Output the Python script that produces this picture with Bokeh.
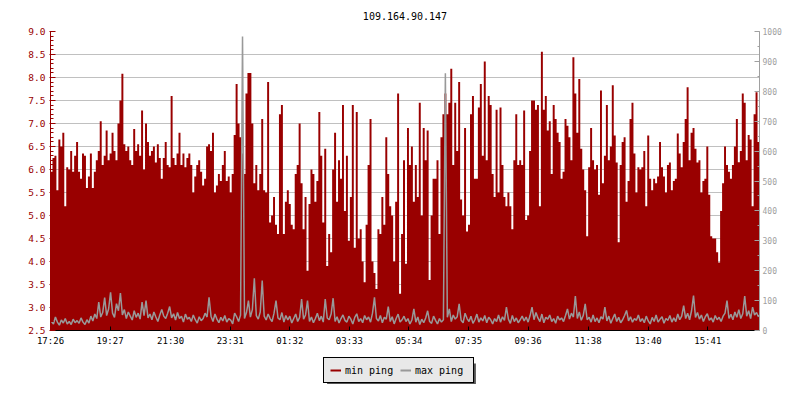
from bokeh.plotting import figure
from bokeh.layouts import column
from bokeh.models import (Range1d, LinearAxis, SingleIntervalTicker, FixedTicker,
                          PrintfTickFormatter, Legend, LegendItem, ColumnDataSource)
from bokeh.embed import file_html
from bokeh.resources import INLINE

# ---------------- data ----------------
title_text = "109.164.90.147"
start_time = "17:26"
sample_minutes = 4
tick_labels = ["17:26", "19:27", "21:30", "23:31", "01:32", "03:33",
               "05:34", "07:35", "09:36", "11:38", "13:40", "15:41"]
series_names = ["min ping", "max ping"]

# min ping (left axis, ms)
min_ping = [
    5.95, 6.25, 6.3, 5.55, 6.65, 6.5, 6.8, 5.2, 6.05, 6.0, 6.4, 5.95, 6.3, 6.6, 5.95, 5.8, 6.35, 6.3, 5.6, 5.85,
    6.35, 5.6, 5.95, 6.2, 6.4, 7.05, 6.1, 6.3, 6.85, 6.2, 6.35, 6.8, 6.4, 6.2, 7.0, 7.5, 8.08, 6.55, 6.4, 6.5,
    6.2, 6.1, 6.88, 6.4, 6.55, 6.3, 7.28, 6.0, 7.0, 6.6, 6.3, 6.4, 6.5, 6.15, 6.55, 6.25, 5.8, 6.25, 6.6, 6.1,
    6.05, 7.6, 6.25, 6.1, 6.35, 6.8, 6.1, 6.35, 6.05, 6.25, 6.35, 6.1, 5.5, 5.85, 6.1, 6.2, 5.95, 5.65, 5.8, 6.5,
    6.55, 6.4, 6.8, 5.5, 5.65, 5.9, 5.75, 6.1, 6.4, 5.75, 5.85, 5.5, 5.9, 6.75, 7.86, 7.0, 6.7, 6.35, 5.9, 7.65,
    8.1, 8.1, 7.0, 5.7, 6.1, 5.55, 5.9, 7.1, 5.55, 5.5, 7.9, 4.85, 5.0, 5.4, 4.8, 4.6, 7.2, 7.4, 4.6, 5.3,
    5.55, 5.25, 4.8, 4.7, 5.9, 6.1, 7.0, 5.7, 4.7, 5.4, 3.8, 5.25, 6.0, 5.9, 5.3, 5.75, 7.25, 6.3, 4.85, 6.45,
    3.9, 4.6, 4.2, 6.0, 6.8, 5.3, 6.2, 5.8, 7.4, 5.1, 6.3, 4.45, 5.4, 7.4, 4.3, 7.25, 4.5, 4.7, 4.0, 3.55,
    4.8, 6.1, 7.1, 4.0, 3.75, 3.4, 4.7, 4.6, 5.4, 4.8, 6.7, 5.9, 5.2, 5.0, 4.0, 5.3, 7.65, 3.3, 4.6, 6.2,
    3.95, 6.9, 6.1, 6.5, 5.3, 6.1, 5.4, 7.45, 5.0, 6.9, 6.2, 6.85, 3.6, 5.0, 5.8, 5.8, 6.2, 4.6, 6.7, 7.2,
    7.65, 7.2, 7.45, 8.19, 6.1, 7.45, 6.4, 7.9, 5.35, 5.0, 6.9, 4.65, 4.8, 7.2, 7.6, 5.8, 5.8, 7.35, 7.86, 6.3,
    8.35, 6.2, 7.6, 7.4, 5.9, 5.4, 7.3, 5.5, 7.35, 6.1, 5.4, 5.2, 5.5, 5.2, 4.7, 6.2, 7.2, 6.1, 6.2, 6.1,
    7.28, 4.9, 5.0, 6.4, 7.5, 7.5, 7.3, 7.4, 5.2, 8.56, 7.3, 7.6, 6.85, 7.05, 5.9, 7.4, 7.1, 6.8, 6.6, 5.8,
    5.95, 7.1, 6.95, 6.7, 6.2, 8.44, 7.65, 6.8, 7.97, 6.45, 6.0, 5.55, 4.55, 6.05, 6.9, 6.2, 6.0, 6.1, 5.45, 7.72,
    5.7, 6.3, 7.4, 6.2, 6.5, 7.83, 6.74, 6.15, 4.42, 6.1, 6.6, 6.7, 5.3, 5.75, 7.1, 7.45, 6.35, 5.5, 6.05, 6.0,
    6.05, 6.4, 5.2, 6.74, 5.8, 5.55, 5.8, 5.7, 5.85, 6.6, 6.05, 5.85, 5.5, 6.1, 6.15, 5.55, 5.75, 5.8, 6.78, 6.35,
    6.05, 6.6, 7.1, 7.79, 6.2, 6.8, 6.9, 6.45, 6.15, 6.2, 5.5, 5.75, 5.8, 6.5, 5.45, 4.55, 4.5, 4.5, 4.2, 3.98,
    5.1, 5.7, 6.5, 6.1, 5.95, 5.8, 6.1, 6.5, 7.1, 6.16, 6.4, 7.65, 7.45, 6.2, 6.75, 6.65, 5.2, 7.2, 7.68, 6.6,
]

# max ping (right axis, ms)
max_ping = [
    30, 22, 45, 28, 18, 35, 25, 40, 22, 30, 20, 38, 26, 33, 24, 42, 28, 20, 36, 25,
    48, 32, 55, 40, 95, 45, 60, 110, 50, 72, 128, 58, 44, 90, 66, 125, 52, 70, 40, 62,
    48, 35, 66, 44, 58, 38, 95, 50, 100, 42, 55, 36, 62, 45, 30, 52, 70, 48, 40, 58,
    80, 42, 56, 35, 60, 40, 48, 28, 55, 38, 44, 30, 52, 36, 25, 46, 33, 40, 58, 45,
    111, 48, 30, 55, 38, 26, 44, 32, 50, 28, 40, 35, 22, 58, 46, 30, 52, 983, 40, 60,
    100, 45, 70, 175, 50, 38, 62, 167, 48, 35, 55, 40, 30, 58, 100, 42, 36, 60, 28, 50,
    35, 48, 25, 40, 55, 30, 44, 105, 38, 52, 100, 30, 45, 26, 40, 58, 33, 48, 28, 105,
    42, 36, 55, 108, 30, 46, 25, 40, 52, 34, 28, 48, 38, 22, 44, 56, 30, 40, 26, 50,
    36, 45, 28, 58, 111, 40, 32, 50, 26, 44, 38, 80, 30, 46, 22, 40, 55, 28, 36, 48,
    30, 40, 22, 35, 72, 28, 45, 20, 38, 26, 42, 66, 30, 24, 48, 34, 22, 40, 28, 36,
    860, 44, 72, 30, 52, 38, 46, 89, 34, 26, 58, 40, 30, 48, 24, 36, 55, 28, 42, 32,
    50, 26, 44, 36, 22, 40, 30, 52, 28, 46, 34, 78, 38, 24, 50, 30, 42, 26, 36, 48,
    32, 45, 28, 50, 78, 36, 60, 42, 30, 55, 26, 44, 38, 52, 30, 40, 24, 48, 35, 42,
    30, 50, 72, 38, 58, 45, 115, 40, 62, 34, 50, 89, 36, 44, 28, 52, 30, 42, 26, 46,
    38, 78, 32, 48, 24, 40, 55, 30, 44, 26, 36, 50, 67, 32, 46, 28, 40, 34, 52, 30,
    40, 26, 48, 32, 22, 44, 30, 52, 28, 38, 46, 24, 40, 34, 50, 28, 42, 30, 55, 36,
    48, 83, 40, 58, 36, 66, 117, 44, 60, 38, 52, 30, 46, 56, 34, 42, 28, 50, 36, 44,
    30, 48, 58, 100, 40, 54, 36, 62, 44, 70, 40, 56, 115, 48, 66, 40, 78, 52, 60, 45,
]

left_range = (2.5, 9.0)
right_range = (0, 1000)

# ---------------- styling ----------------
RED = "#990000"
GRAY = "#999999"
AXGRAY = "#a0a0a0"
FONT = "DejaVu Sans Mono"
W = 784
BORDER_L, BORDER_R = 50, 24


def minutes_since_start(lbl):
    h, m = map(int, lbl.split(":"))
    sh, sm = map(int, start_time.split(":"))
    return ((h * 60 + m) - (sh * 60 + sm)) % 1440


n = len(min_ping)
area_src = ColumnDataSource(dict(
    x=[i * sample_minutes for i in range(n + 1)],
    mn=min_ping + [min_ping[-1]],
))
line_src = ColumnDataSource(dict(
    x=[i * sample_minutes + sample_minutes / 2 for i in range(n)],
    mx=max_ping,
))

p = figure(width=W, height=352,
           x_range=Range1d(0, n * sample_minutes),
           y_range=Range1d(*left_range),
           output_backend="svg", toolbar_location=None,
           min_border_left=BORDER_L, min_border_right=BORDER_R,
           min_border_top=31, min_border_bottom=22,
           title=title_text)
p.extra_y_ranges = {"right": Range1d(*right_range)}
p.outline_line_color = None
p.background_fill_color = "white"
p.border_fill_color = "white"

p.title.align = "center"
p.title.vertical_align = "top"
p.title.standoff = 19
p.title.text_font = FONT
p.title.text_font_size = "10px"
p.title.text_font_style = "normal"
p.title.text_color = "black"

# series
p.varea_step(x="x", y1=left_range[0], y2="mn", step_mode="after",
             fill_color=RED, fill_alpha=1.0, source=area_src)
p.line(x="x", y="mx", line_color=GRAY, line_width=1.5,
       y_range_name="right", source=line_src)

# left axis
yl = p.yaxis[0]
yl.ticker = SingleIntervalTicker(interval=0.5, num_minor_ticks=5)
yl.formatter = PrintfTickFormatter(format="%.1f")
yl.axis_line_color = RED
yl.major_tick_line_color = RED
yl.minor_tick_line_color = RED
yl.major_label_text_color = RED
yl.major_tick_in = 5
yl.major_tick_out = 1
yl.minor_tick_in = 3
yl.minor_tick_out = 0
yl.major_label_text_font = FONT
yl.major_label_text_font_size = "9.5px"
yl.major_label_standoff = 4

p.ygrid.ticker = SingleIntervalTicker(interval=0.5)
p.ygrid.grid_line_color = "#c0c0c0"
p.xgrid.grid_line_color = None

# right axis
yr = LinearAxis(y_range_name="right",
                ticker=SingleIntervalTicker(interval=100, num_minor_ticks=2))
yr.axis_line_color = AXGRAY
yr.major_tick_line_color = AXGRAY
yr.minor_tick_line_color = AXGRAY
yr.major_label_text_color = AXGRAY
yr.major_tick_in = 5
yr.major_tick_out = 0
yr.minor_tick_in = 2
yr.minor_tick_out = 0
yr.major_label_text_font = FONT
yr.major_label_text_font_size = "8px"
yr.major_label_standoff = 3
p.add_layout(yr, "right")

# bottom axis
tick_pos = [minutes_since_start(t) for t in tick_labels]
xa = p.xaxis[0]
xa.ticker = FixedTicker(ticks=tick_pos, minor_ticks=[])
xa.major_label_overrides = {pos: lbl for pos, lbl in zip(tick_pos, tick_labels)}
xa.axis_line_color = "black"
xa.major_tick_line_color = "black"
xa.major_tick_in = 4
xa.major_tick_out = 0
xa.major_label_text_font = FONT
xa.major_label_text_font_size = "9px"
xa.major_label_text_color = "black"
xa.major_label_standoff = 5

# ---------------- legend strip (box with drop shadow) ----------------
# the column layout aligns this strip's frame with the chart's frame,
# so its x range is set to map 1:1 onto page pixels
lg = figure(width=W, height=32, x_range=Range1d(BORDER_L, W - BORDER_R),
            y_range=Range1d(0, 32), x_axis_type=None, y_axis_type=None,
            output_backend="svg", toolbar_location=None,
            min_border=0, min_border_left=BORDER_L, min_border_right=BORDER_R)
lg.outline_line_color = None
lg.grid.visible = False
lg.background_fill_color = "white"
lg.border_fill_color = "white"

LEG_X, LEG_Y, LEG_W, LEG_H, SHADOW = 323, 1, 149, 24, 4
lg.quad(left=LEG_X + SHADOW, right=LEG_X + SHADOW + LEG_W,
        bottom=LEG_Y - SHADOW, top=LEG_Y + LEG_H - SHADOW,
        fill_color="#555555", line_color=None)
nan = float("nan")
d1 = lg.line(x=[nan], y=[nan], line_color=RED, line_width=2)
d2 = lg.line(x=[nan], y=[nan], line_color=GRAY, line_width=2)

legend = Legend(items=[LegendItem(label=series_names[0], renderers=[d1]),
                       LegendItem(label=series_names[1], renderers=[d2])],
                orientation="horizontal", location=(LEG_X - BORDER_L, LEG_Y),
                border_line_color="black", border_line_width=1, border_line_alpha=1,
                background_fill_color="#e8e8e8", background_fill_alpha=1,
                label_text_font=FONT, label_text_font_size="10px",
                label_text_color="black",
                glyph_width=11, glyph_height=12, label_standoff=4,
                label_width=52, label_height=12, spacing=3, padding=6, margin=0)
lg.add_layout(legend, "center")

layout = column(p, lg, spacing=0)
open("out.html", "w").write(file_html(layout, INLINE))
